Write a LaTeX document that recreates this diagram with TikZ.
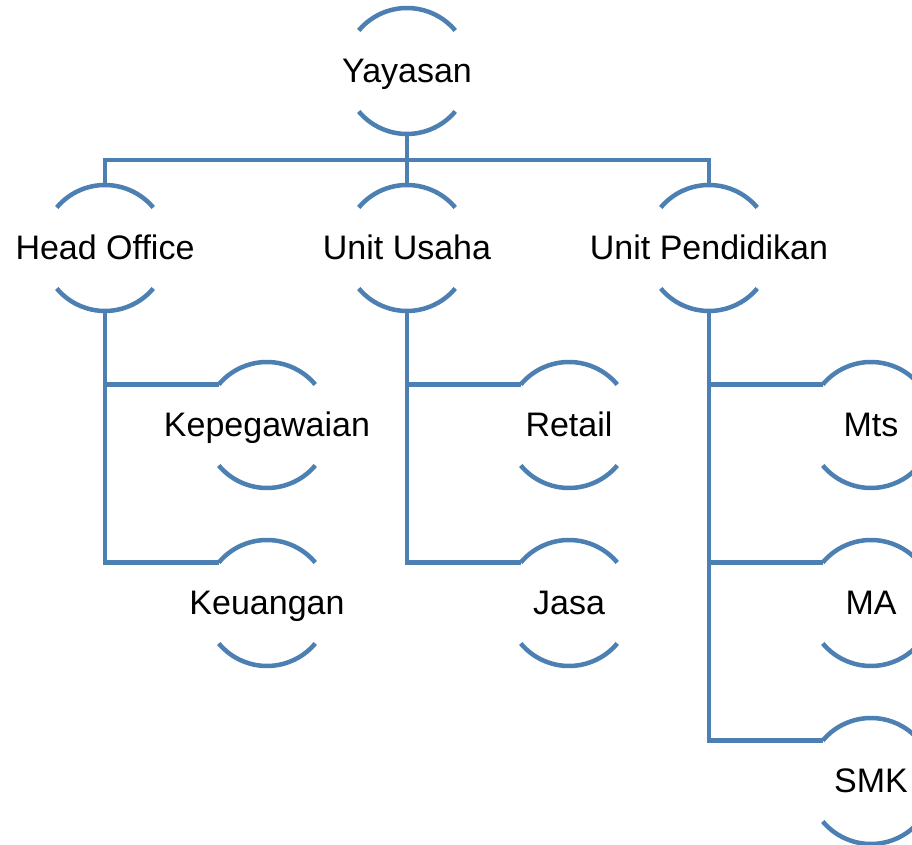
\documentclass[tikz,border=0pt]{standalone}
\usepackage{fontspec}
\setmainfont{Liberation Sans}
\definecolor{lineblue}{RGB}{76,127,178}
\begin{document}
\begin{tikzpicture}[x=1pt,y=1pt,
  circ/.style={circle,minimum size=126pt,inner sep=0pt,outer sep=0pt,draw=none},
  lbl/.style={font=\fontsize{34}{40}\selectfont,text=black,text height=25pt,text depth=1pt},
  arcline/.style={draw=lineblue,line width=4.5pt},
  conn/.style={draw=lineblue,line width=4.5pt}]
\clip (0,0) rectangle (912,845);
\fill[white] (0,0) rectangle (912,845);
% nodes
\node[circ,label={[lbl]center:Yayasan}] (yay) at (407,774) {};
\node[circ,label={[lbl]center:Head Office}] (ho) at (105,597) {};
\node[circ,label={[lbl]center:Unit Usaha}] (up) at (407,597) {};
\node[circ,label={[lbl]center:Unit Pendidikan}] (pe) at (709,597) {};
\node[circ,label={[lbl]center:Kepegawaian}] (kp) at (267,420) {};
\node[circ,label={[lbl]center:Keuangan}] (ku) at (267,242) {};
\node[circ,label={[lbl]center:Retail}] (re) at (569,420) {};
\node[circ,label={[lbl]center:Jasa}] (ja) at (569,242) {};
\node[circ,label={[lbl]center:Mts}] (mt) at (871,420) {};
\node[circ,label={[lbl]center:MA}] (ma) at (871,242) {};
\node[circ,label={[lbl]center:SMK}] (sm) at (871,64) {};
% arcs
\foreach \n in {yay,ho,up,pe,kp,ku,re,ja,mt,ma,sm}{
  \draw[arcline] (\n.140) arc[start angle=140,end angle=40,radius=63pt];
  \draw[arcline] (\n.220) arc[start angle=220,end angle=320,radius=63pt];
}
% connectors
\coordinate (bar) at (0,685);
\draw[conn] (yay.south) -- (yay.south |- bar);
\draw[conn] (ho.north) -- (ho.north |- bar) -- (pe.north |- bar) -- (pe.north);
\draw[conn] (up.north) -- (up.north |- bar);
\draw[conn] (ho.south) |- (kp.140);
\draw[conn] (ho.south) |- (ku.140);
\draw[conn] (up.south) |- (re.140);
\draw[conn] (up.south) |- (ja.140);
\draw[conn] (pe.south) |- (mt.140);
\draw[conn] (pe.south) |- (ma.140);
\draw[conn] (pe.south) |- (sm.140);
\end{tikzpicture}
\end{document}
